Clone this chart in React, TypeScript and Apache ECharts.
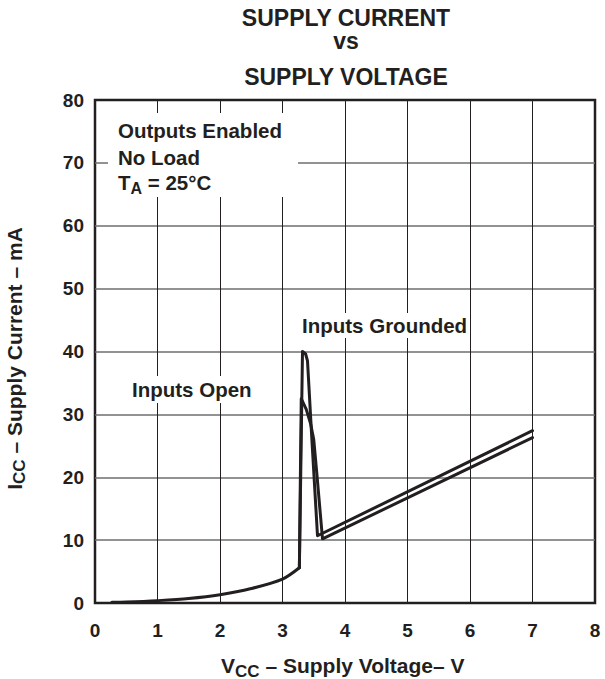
import React, { useEffect, useRef } from 'react';
import * as echarts from 'echarts';

// Shared low-voltage part (both conditions coincide)
const vLow = [0.27, 0.5, 1.0, 1.5, 2.0, 2.5, 3.0, 3.27];
const iLow = [0.1, 0.15, 0.37, 0.7, 1.3, 2.3, 3.8, 5.6];

// Inputs Grounded (after the shared part)
const vGrounded = [3.27, 3.32, 3.37, 3.4, 3.47, 3.56, 7.0];
const iGrounded = [5.6, 40, 39.6, 38.5, 26, 10.7, 27.4];

// Inputs Open (after the shared part)
const vOpen = [3.27, 3.3, 3.38, 3.45, 3.5, 3.55, 3.64, 7.0];
const iOpen = [5.6, 32.5, 30.8, 28.5, 26, 20.5, 10.2, 26.3];

const titleLines = ['SUPPLY CURRENT', 'vs', 'SUPPLY VOLTAGE'];
const noteLines = ['Outputs Enabled', 'No Load'];

const FONT = '"Liberation Sans", Arial, Helvetica, sans-serif';
const INK = '#231f20';

function pts(xs: number[], ys: number[]) {
  return xs.map((x, i) => [x, ys[i]]);
}

function txt(x: number, y: number, text: string, size: number, align = 'left', extra: any = {}) {
  return {
    type: 'text',
    x,
    y,
    z: 101,
    silent: true,
    ...extra,
    style: {
      text,
      fill: INK,
      fontFamily: FONT,
      fontWeight: 'bold',
      fontSize: size,
      align,
      verticalAlign: 'middle',
    },
  };
}

function whiteRect(x: number, y: number, w: number, h: number) {
  return { type: 'rect', z: 100, silent: true, shape: { x, y, width: w, height: h }, style: { fill: '#fff' } };
}

export default function App() {
  const ref = useRef<HTMLDivElement>(null);
  useEffect(() => {
    if (!ref.current) return;
    const chart = echarts.init(ref.current, undefined, { renderer: 'svg' });
    const lineStyle = { color: INK, width: 3, join: 'round', cap: 'round' };

    // Name widths (Liberation Sans Bold = Arial Bold metrics)
    const mainSize = 21;
    const subSize = 17;
    const xnStart = 221;
    const vW = 0.667 * mainSize;
    const ccW = 2 * 0.722 * subSize;
    const iW = 0.278 * mainSize;
    const ynLen = iW + ccW + 11.058 * mainSize;

    chart.setOption({
      animation: false,
      grid: {
        left: 95,
        right: 10,
        top: 100,
        bottom: 76,
        show: true,
        borderColor: INK,
        borderWidth: 2.5,
        backgroundColor: 'transparent',
      },
      xAxis: {
        type: 'value',
        min: 0,
        max: 8,
        interval: 1,
        axisLine: { show: false },
        axisTick: { show: false },
        axisLabel: { color: INK, fontFamily: FONT, fontWeight: 'bold', fontSize: 19, margin: 18 },
        splitLine: { show: true, showMinLine: false, showMaxLine: false, lineStyle: { color: INK, width: 1 } },
      },
      yAxis: {
        type: 'value',
        min: 0,
        max: 80,
        interval: 10,
        axisLine: { show: false },
        axisTick: { show: false },
        axisLabel: { color: INK, fontFamily: FONT, fontWeight: 'bold', fontSize: 19, margin: 11 },
        splitLine: { show: true, showMinLine: false, showMaxLine: false, lineStyle: { color: '#6d6e71', width: 1.5 } },
      },
      series: [
        {
          name: 'Low',
          type: 'line',
          data: pts(vLow, iLow),
          showSymbol: false,
          symbol: 'none',
          smooth: 0.3,
          lineStyle,
          z: 5,
        },
        {
          name: 'Inputs Open',
          type: 'line',
          data: pts(vOpen, iOpen),
          showSymbol: false,
          symbol: 'none',
          lineStyle,
          z: 5,
        },
        {
          name: 'Inputs Grounded',
          type: 'line',
          data: pts(vGrounded, iGrounded),
          showSymbol: false,
          symbol: 'none',
          lineStyle,
          z: 5,
        },
      ],
      graphic: [
        // title
        txt(346, 17.5, titleLines[0], 23, 'center'),
        txt(346, 41, titleLines[1], 23, 'center'),
        txt(346, 76.7, titleLines[2], 23, 'center'),
        // conditions box
        whiteRect(108, 113, 190, 84),
        txt(118, 130, noteLines[0], 20.5),
        txt(118, 157, noteLines[1], 20.5),
        txt(118, 182, 'T', 20.5),
        txt(118 + 0.611 * 20.5, 188, 'A', 16),
        txt(118 + 0.611 * 20.5 + 0.722 * 16, 182, ' = 25°C', 20.5),
        // curve labels
        whiteRect(298, 313, 168, 25),
        txt(302, 325.5, 'Inputs Grounded', 20.5),
        whiteRect(128, 376, 128, 27),
        txt(132, 389.5, 'Inputs Open', 20.5),
        // x axis name
        txt(xnStart, 665, 'V', mainSize),
        txt(xnStart + vW, 671, 'CC', subSize),
        txt(xnStart + vW + ccW, 665, ' – Supply Voltage– V', mainSize),
        // y axis name (rotated)
        {
          type: 'group',
          x: 14,
          y: 358.5,
          rotation: Math.PI / 2,
          children: [
            txt(-ynLen / 2, 0, 'I', mainSize),
            txt(-ynLen / 2 + iW, 5, 'CC', subSize),
            txt(-ynLen / 2 + iW + ccW, 0, ' – Supply Current – mA', mainSize),
          ],
        },
      ],
    });
    return () => chart.dispose();
  }, []);
  return <div ref={ref} style={{ position: 'fixed', left: 0, top: 0, width: 605, height: 679, background: '#fff' }} />;
}
